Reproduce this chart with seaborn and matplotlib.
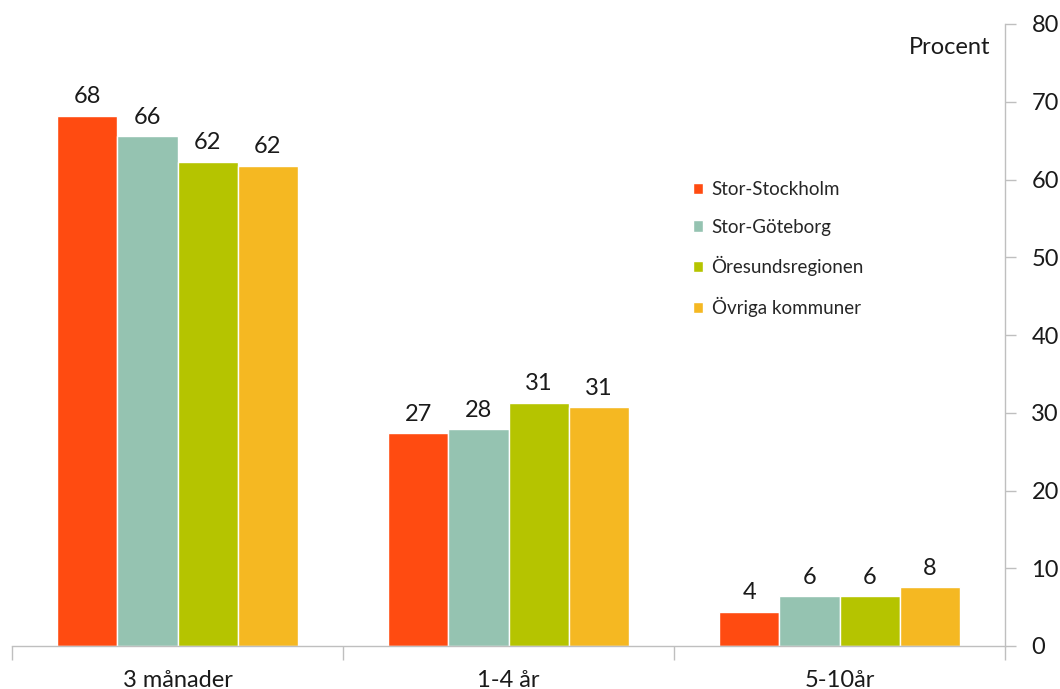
import matplotlib
matplotlib.use("Agg")
import matplotlib.pyplot as plt
import seaborn as sns
import pandas as pd

categories = ["3 månader", "1-4 år", "5-10år"]
regions = ["Stor-Stockholm", "Stor-Göteborg", "Öresundsregionen", "Övriga kommuner"]
stor_stockholm = [68.2, 27.4, 4.4]
stor_goteborg = [65.6, 27.9, 6.4]
oresund = [62.3, 31.3, 6.4]
ovriga = [61.8, 30.7, 7.6]
colors = ["#FF4B11", "#95C3B1", "#B5C400", "#F5B822"]
yticks = [0, 10, 20, 30, 40, 50, 60, 70, 80]

series = [stor_stockholm, stor_goteborg, oresund, ovriga]
rows = []
for reg, vals in zip(regions, series):
    for cat, v in zip(categories, vals):
        rows.append({"Kategori": cat, "Region": reg, "Procent": v})
df = pd.DataFrame(rows)

sns.set_theme(style="white")
plt.rcParams["font.family"] = ["Lato", "DejaVu Sans"]

fig = plt.figure(figsize=(10.6, 6.89), dpi=100)
ax = fig.add_axes([12 / 1060, 1 - 646 / 689, (1005 - 12) / 1060, (646 - 24) / 689])

sns.barplot(data=df, x="Kategori", y="Procent", hue="Region", order=categories,
            hue_order=regions, palette=colors, width=0.727, gap=0, saturation=1,
            errorbar=None, ax=ax, legend=True)

for cont in ax.containers:
    ax.bar_label(cont, fmt="%.0f", padding=6, fontsize=17, color="#1a1a1a")

ax.set_xlim(-0.5, 2.5)
ax.set_ylim(0, 80)
ax.set_yticks(yticks)
ax.yaxis.tick_right()
ax.yaxis.set_label_position("right")
ax.set_xlabel("")
ax.set_ylabel("")
for s in ["top", "left"]:
    ax.spines[s].set_visible(False)
for s in ["right", "bottom"]:
    ax.spines[s].set_color("#BFBFBF")
    ax.spines[s].set_linewidth(1)

ax.tick_params(axis="y", which="major", direction="out", length=8, width=1,
               color="#BFBFBF", labelsize=17, labelcolor="#1a1a1a", pad=11, right=True, left=False)
ax.set_xticks(range(len(categories)))
ax.set_xticklabels(categories)
ax.set_xticks([-0.5, 0.5, 1.5, 2.5], minor=True)
ax.tick_params(axis="x", which="major", length=0, labelsize=17, labelcolor="#1a1a1a", pad=17)
ax.tick_params(axis="x", which="minor", direction="out", length=10, width=1, color="#BFBFBF", bottom=True)

ax.text(990 / 1060, 1 - 48 / 689, "Procent", transform=fig.transFigure,
        ha="right", va="center", fontsize=17, color="#1a1a1a")

leg = ax.legend(loc="upper left", bbox_to_anchor=(676 / 1060, 1 - 164 / 689),
                bbox_transform=fig.transFigure, frameon=False, fontsize=13.5,
                handlelength=0.55, handleheight=0.55, handletextpad=0.45, labelspacing=1.1)

fig.savefig("out.png", dpi=100)
